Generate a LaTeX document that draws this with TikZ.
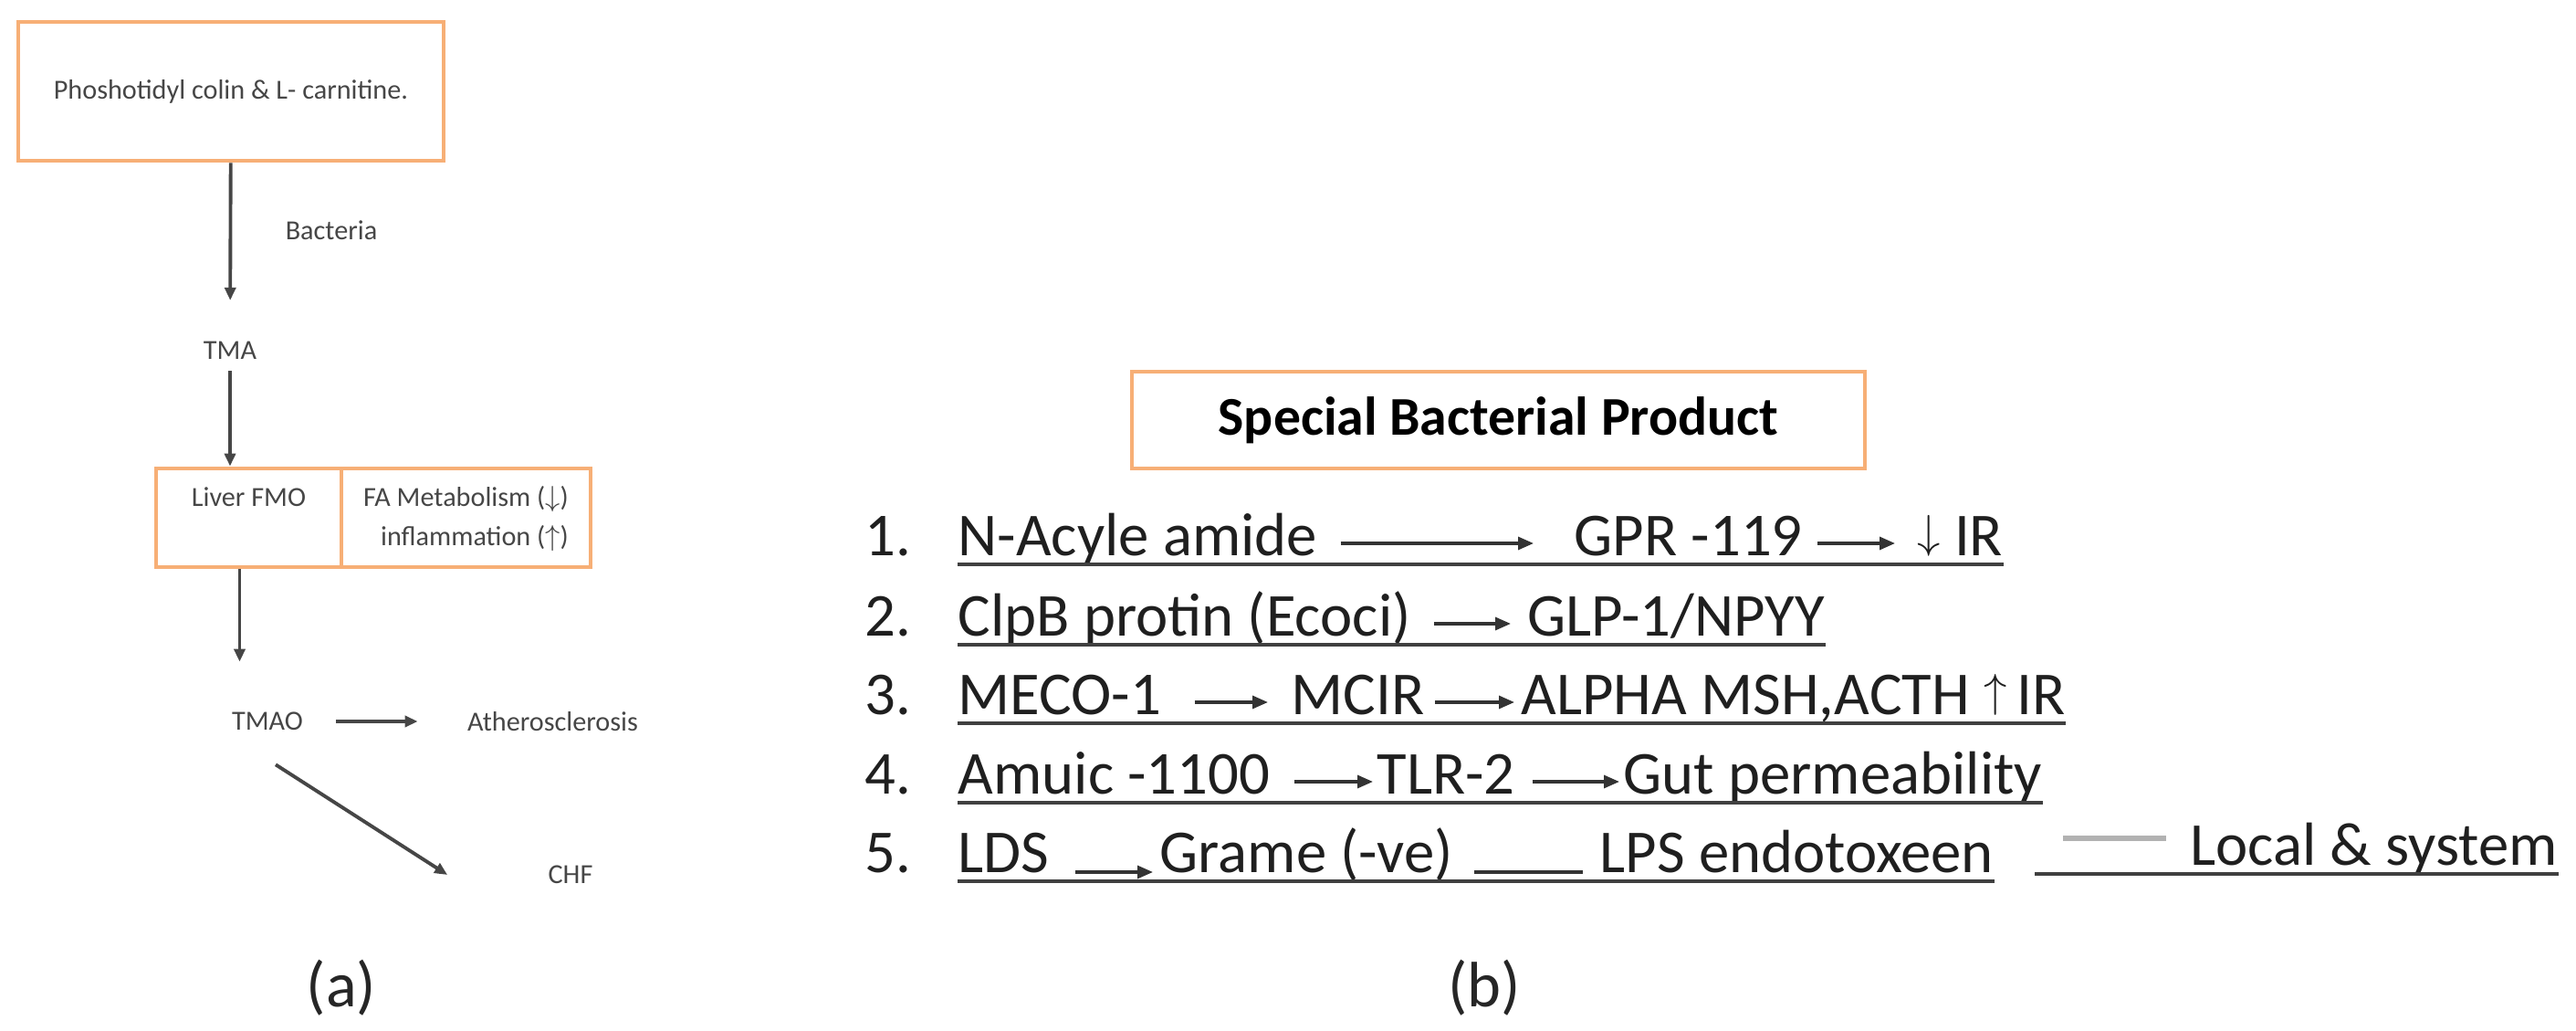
\documentclass[tikz,border=0pt]{standalone}
\usepackage{fontspec}
\setmainfont{Carlito}
\usetikzlibrary{arrows.meta,positioning}
\definecolor{boxorange}{RGB}{247,175,118}
\definecolor{inkgray}{RGB}{70,70,70}
\newcommand{\smallfont}{\fontsize{8.6}{12.2}\selectfont}
\newcommand{\listfont}{\fontsize{19}{23}\selectfont}
\newcommand{\headfont}{\fontsize{17}{20}\selectfont\bfseries}
\newcommand{\capfont}{\fontsize{20}{24}\selectfont}
\newcommand{\tinyarrow}[1]{\raisebox{0.12em}{$\scriptstyle#1$}}
\begin{document}
\begin{tikzpicture}[
  obox/.style={draw=boxorange, line width=1.4pt, inner sep=2pt},
  atxt/.style={font=\smallfont, text=inkgray},
  aarr/.style={-{Triangle[length=1.4mm,width=1.2mm]}, draw=inkgray, line width=1.1pt},
  item/.style={font=\listfont, text=black!88, inner sep=0pt, text height=10pt, text depth=2.6pt, anchor=base west},
  larr/.style={-{Triangle[length=1.7mm,width=1.4mm]}, draw=black!80, line width=0.9pt},
  uline/.style={draw=black!75, line width=1.3pt}
]

\useasboundingbox (0,0) rectangle (28.22,-11.29);

\node[obox, atxt, minimum width=4.66cm, minimum height=1.52cm] (src) at (2.53,-1.00) {Phoshotidyl colin \& L- carnitine.};
\node[atxt] (bact) at (3.63,-2.52) {Bacteria};
\node[atxt] (tma) at (2.52,-3.84) {TMA};
\node[obox, atxt, align=center, minimum width=2.03cm, minimum height=1.08cm] (fmo) at (2.725,-5.67) {\strut Liver FMO\\\strut};
\node[obox, atxt, align=right, minimum width=2.73cm, minimum height=1.08cm, right=-1.4pt of fmo] (fam) {\strut FA Metabolism ($\downarrow$)\\\strut inflammation ($\uparrow$)};
\node[atxt] (tmao) at (2.93,-7.90) {TMAO};
\node[atxt] (athero) at (6.055,-7.90) {Atherosclerosis};
\node[atxt] (chf) at (6.25,-9.58) {CHF};

\draw[aarr, shorten >=0.33cm] (src) -- (tma);
\draw[aarr] (tma) -- (tma |- fmo.north);
\draw[aarr, shorten >=0.43cm] ([xshift=-0.1cm]fmo.south) -- ([xshift=-0.1cm]fmo.south |- tmao.north);
\draw[aarr, shorten <=0.24cm, shorten >=0.42cm] (tmao) -- (athero);
\draw[aarr] ([shift={(0.09,-0.25)}]tmao.south) -- ([xshift=-0.98cm]chf.west);

\node[obox, line width=1.3pt, font=\headfont, minimum width=8.03cm, minimum height=1.06cm] (head) at (16.415,-4.60) {Special Bacterial Product};

\foreach \k/\yy in {1/6.08, 2/6.96, 3/7.82, 4/8.69, 5/9.55}
  \node[item] (n\k) at (9.47,-\yy) {\k.};

\node[item] (r1a) at (10.49,-6.08) {N-Acyle amide};
\node[item] (r1b) at (17.24,-6.08) {GPR -119};
\node[item] (r1c) at (21.00,-6.08) {\tinyarrow{\downarrow} IR};
\draw[larr, shorten <=0.25cm, shorten >=0.44cm] (r1a) -- (r1b);
\draw[larr, shorten <=0.16cm, shorten >=0.24cm] (r1b) -- (r1c);
\draw[uline] (r1a.south west) -- (r1c.south east);

\node[item] (r2a) at (10.49,-6.96) {ClpB protin (Ecoci)};
\node[item] (r2b) at (16.73,-6.96) {GLP-1/NPYY};
\draw[larr, shorten <=0.25cm, shorten >=0.18cm] (r2a) -- (r2b);
\draw[uline] (r2a.south west) -- (r2b.south east);

\node[item] (r3a) at (10.49,-7.82) {MECO-1};
\node[item] (r3b) at (14.14,-7.82) {MCIR};
\node[item] (r3c) at (16.66,-7.82) {ALPHA MSH,ACTH \tinyarrow{\uparrow}\,IR};
\draw[larr, shorten <=0.36cm, shorten >=0.25cm] (r3a) -- (r3b);
\draw[larr, shorten <=0.11cm, shorten >=0.07cm] (r3b) -- (r3c);
\draw[uline] (r3a.south west) -- (r3c.south east);

\node[item] (r4a) at (10.49,-8.69) {Amuic -1100};
\node[item] (r4b) at (15.08,-8.69) {TLR-2};
\node[item] (r4c) at (17.78,-8.69) {Gut permeability};
\draw[larr, shorten <=0.26cm, shorten >=0.04cm] (r4a) -- (r4b);
\draw[larr, shorten <=0.18cm, shorten >=0.04cm] (r4b) -- (r4c);
\draw[uline] (r4a.south west) -- (r4c.south east);

\node[item] (r5a) at (10.49,-9.55) {LDS};
\node[item] (r5b) at (12.70,-9.55) {Grame (-ve)};
\node[item] (r5c) at (17.52,-9.55) {LPS endotoxeen};
\node[item] (r5d) at (23.99,-9.47) {Local \& system};
\draw[larr, shorten <=0.28cm, shorten >=0.07cm] (r5a.base east) -- (r5b.base west);
\draw[draw=black!80, line width=0.9pt, shorten <=0.23cm, shorten >=0.18cm] (r5b.base east) -- (r5c.base west);
\draw[uline] (r5a.south west) -- (r5c.south east);
\draw[uline] ([xshift=-1.70cm]r5d.south west) -- (r5d.south east);
\draw[gray!60, line width=1.5pt] ([xshift=-1.39cm,yshift=0.16cm]r5d.west) -- ([xshift=-0.26cm,yshift=0.16cm]r5d.west);

\node[font=\capfont, text=black!85] (capa) at (3.74,-10.82) {(a)};
\node[font=\capfont, text=black!85] (capb) at (16.26,-10.82) {(b)};

\end{tikzpicture}
\end{document}
